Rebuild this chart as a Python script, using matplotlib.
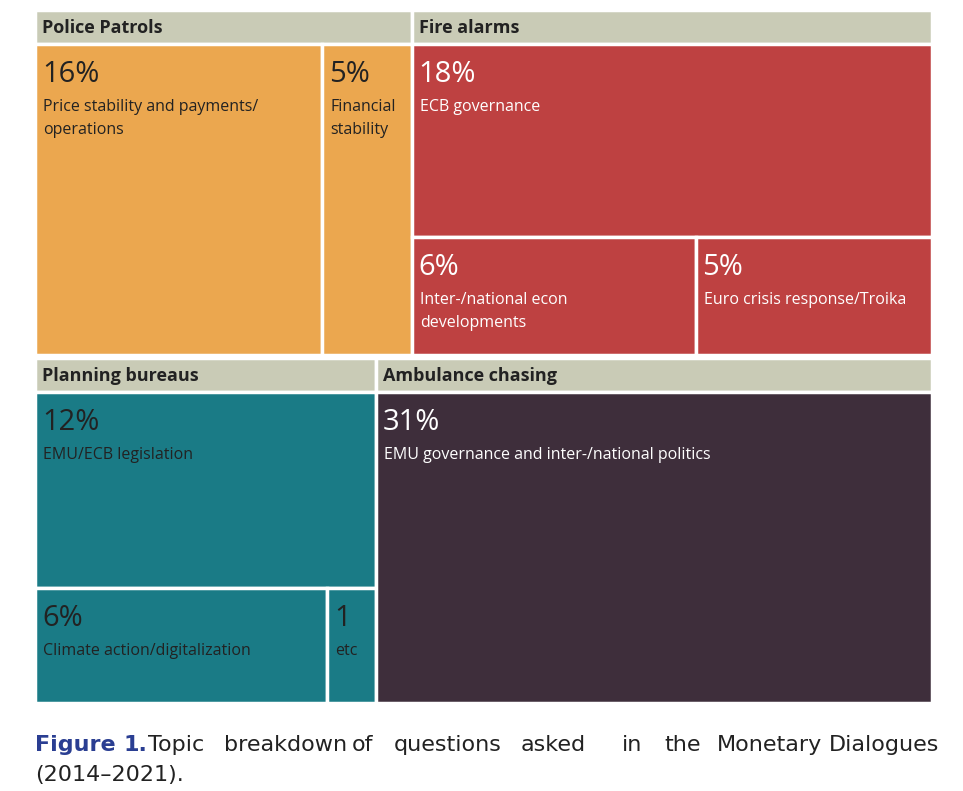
import matplotlib.pyplot as plt
from matplotlib.patches import Rectangle


def draw():

    # groups: (header, colour, text colour, [(pct, label), ...]) ; top row then bottom row
    top = [("Police Patrols", "#EBA74F", "#222222", [(16, "Price stability and payments/\noperations"), (5, "Financial\nstability")]),
           ("Fire alarms", "#BE4141", "white", [(18, "ECB governance"), (6, "Inter-/national econ\ndevelopments"), (5, "Euro crisis response/Troika")])]
    bottom = [("Planning bureaus", "#1A7B86", "#222222", [(12, "EMU/ECB legislation"), (6, "Climate action/digitalization"), (1, "etc")]),
              ("Ambulance chasing", "#3E2E3B", "white", [(31, "EMU governance and inter-/national politics")])]

    x0, x1, y0, y1 = 35, 932, 10, 703
    head = 34  # header height in px
    gap = 3

    fig = plt.figure(figsize=(9.63, 7.91), dpi=100)
    ax = fig.add_axes([0, 0, 1, 1])
    ax.set_xlim(0, 963)
    ax.set_ylim(791, 0)
    ax.axis("off")

    def box(x, y, w, h, col, tcol, pct, lab):
        ax.add_patch(Rectangle((x, y), w, h, facecolor=col, edgecolor="white", lw=2.5))
        ax.text(x + 7, y + 30, f"{pct}%" if pct > 1 else str(pct), fontsize=21, color=tcol, va="center", family="Open Sans")
        ax.text(x + 8, y + 55, lab, fontsize=11.5, color=tcol, va="top", linespacing=1.6, family="Open Sans")

    total = sum(p for g in top + bottom for p, _ in g[3])
    rows = [top, bottom]
    yy = y0
    for row in rows:
        rsum = sum(p for g in row for p, _ in g[3])
        rh = (y1 - y0 - gap) * rsum / total
        xx = x0
        for name, col, tcol, items in row:
            gsum = sum(p for p, _ in items)
            gw = (x1 - x0) * gsum / rsum
            ax.add_patch(Rectangle((xx, yy), gw, head, facecolor="#C9CBB6", edgecolor="white", lw=2.5))
            ax.text(xx + 7, yy + head / 2 + 1, name, fontsize=13, fontweight="bold", color="#222222", va="center", family="Open Sans")
            by, bh = yy + head, rh - head
            first = items[0]
            rest = items[1:]
            if not rest:
                box(xx, by, gw, bh, col, tcol, *first)
            elif len(rest) == 1:  # split side by side
                w1 = gw * first[0] / gsum
                box(xx, by, w1, bh, col, tcol, *first)
                box(xx + w1, by, gw - w1, bh, col, tcol, *rest[0])
            else:  # first on top, rest side by side below
                h1 = bh * first[0] / gsum
                box(xx, by, gw, h1, col, tcol, *first)
                rsub = sum(p for p, _ in rest)
                sx = xx
                for p, lab in rest:
                    sw = gw * p / rsub
                    box(sx, by + h1, sw, bh - h1, col, tcol, p, lab)
                    sx += sw
            xx += gw
        yy += rh + gap

    # caption, justified by hand
    words = [("Figure", 35), ("1.", 123), ("Topic", 148), ("breakdown", 224), ("of", 352), ("questions", 394),
             ("asked", 521), ("in", 622), ("the", 664), ("Monetary", 717), ("Dialogues", 829)]
    for i, (w, x) in enumerate(words):
        ax.text(x, 745, w, fontsize=16, va="center", color="#2A3E92" if i < 2 else "#222222",
                fontweight="bold" if i < 2 else "normal", family="Liberation Sans Narrow")
    ax.text(35, 775, "(2014–2021).", fontsize=16, va="center", color="#222222", family="Liberation Sans Narrow")

    fig.savefig("out.png", dpi=100)


if __name__ == "__main__":

    draw()
